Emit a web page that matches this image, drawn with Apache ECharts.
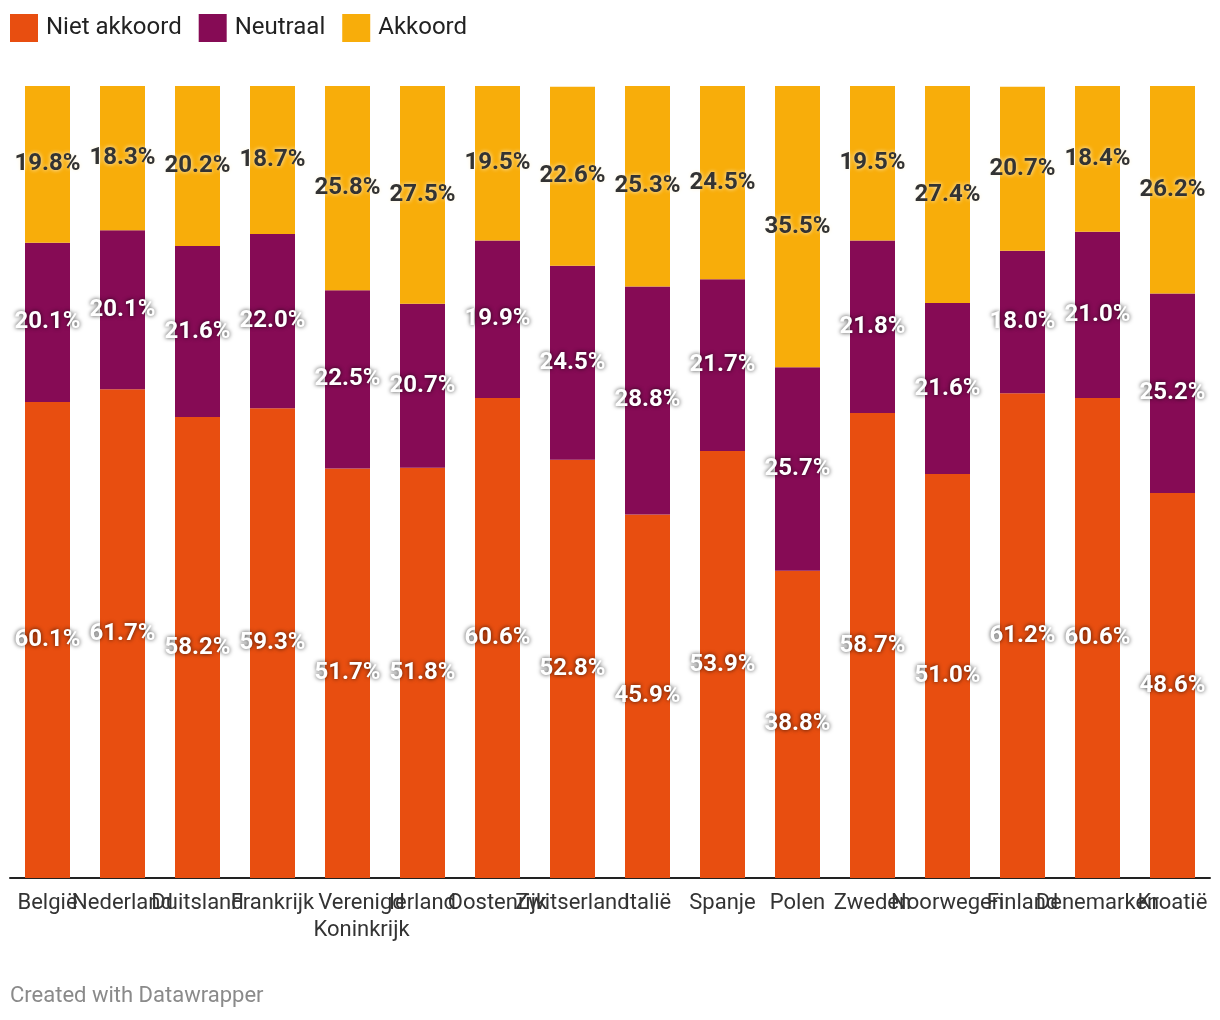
<!DOCTYPE html>
<html>
<head>
<meta charset="utf-8">
<script src="https://cdn.jsdelivr.net/npm/echarts@6/dist/echarts.min.js"></script>
<style>
html,body{margin:0;padding:0;background:#fff;}
#chart{width:1220px;height:1020px;}
</style>
</head>
<body>
<div id="chart"></div>
<script>
const categories = ["België","Nederland","Duitsland","Frankrijk","Verenigd\nKoninkrijk","Ierland","Oostenrijk","Zwitserland","Italië","Spanje","Polen","Zweden","Noorwegen","Finland","Denemarken","Kroatië"];
const nietAkkoord = [60.1,61.7,58.2,59.3,51.7,51.8,60.6,52.8,45.9,53.9,38.8,58.7,51.0,61.2,60.6,48.6];
const neutraal = [20.1,20.1,21.6,22.0,22.5,20.7,19.9,24.5,28.8,21.7,25.7,21.8,21.6,18.0,21.0,25.2];
const akkoord = [19.8,18.3,20.2,18.7,25.8,27.5,19.5,22.6,25.3,24.5,35.5,19.5,27.4,20.7,18.4,26.2];

const FONT = 'Roboto, "Noto Sans", sans-serif';
const fmt = p => p.value.toFixed(1) + '%';
const whiteLabel = {show:true, position:'inside', formatter:fmt, color:'#fff', fontFamily:FONT, fontWeight:'bold', fontSize:24,
  textShadowColor:'rgba(0,0,0,0.75)', textShadowBlur:4};
const darkLabel = {show:true, position:'inside', formatter:fmt, color:'#333', fontFamily:FONT, fontWeight:'bold', fontSize:24,
  textShadowColor:'rgba(255,245,220,1)', textShadowBlur:4};

const axisCats = categories.map(c => c.indexOf('\n') >= 0
  ? {value:c, textStyle:{padding:[0,0,0,28]}} : c);

const chart = echarts.init(document.getElementById('chart'));
chart.setOption({
  animation:false,
  legend:{left:10, top:14, padding:0, itemWidth:28, itemHeight:28, itemGap:17, icon:'rect',
    textStyle:{fontSize:24, color:'#222', fontFamily:FONT, padding:[0,0,0,3], lineHeight:28, verticalAlign:'middle'},
    data:['Niet akkoord','Neutraal','Akkoord']},
  grid:{left:10, right:10, top:86, bottom:142, containLabel:false},
  xAxis:{type:'category', data:axisCats,
    axisLine:{lineStyle:{color:'#222', width:2}}, axisTick:{show:false},
    axisLabel:{interval:0, hideOverlap:false, color:'#333', fontSize:22, fontFamily:FONT, margin:12, lineHeight:27}},
  yAxis:{type:'value', min:0, max:100, show:false, splitLine:{show:false}},
  graphic:[{type:'text', left:10, top:985, style:{text:'Created with Datawrapper', fill:'#8a8a8a', fontSize:22, fontFamily:FONT}}],
  series:[
    {name:'Niet akkoord', type:'bar', stack:'a', data:nietAkkoord, barWidth:45, itemStyle:{color:'#E84E10'}, label:whiteLabel},
    {name:'Neutraal', type:'bar', stack:'a', data:neutraal, barWidth:45, itemStyle:{color:'#860B55'}, label:whiteLabel},
    {name:'Akkoord', type:'bar', stack:'a', data:akkoord, barWidth:45, itemStyle:{color:'#F8AD0A'}, label:darkLabel}
  ]
});
</script>
</body>
</html>
